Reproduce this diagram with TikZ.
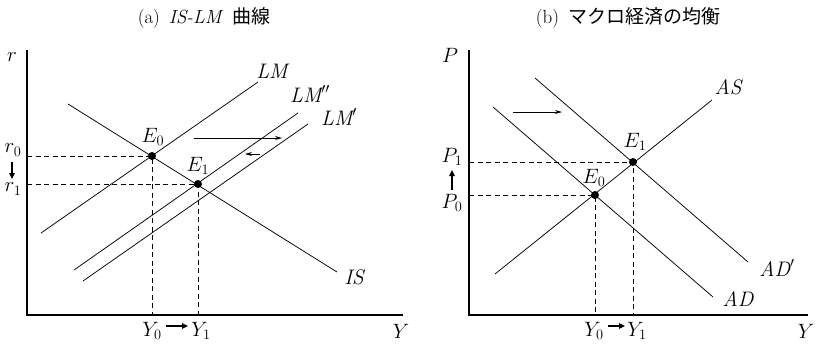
\documentclass[tikz,border=0pt]{standalone}
\usepackage{fontspec}
\newfontfamily\cjk{Noto Sans CJK JP}
\usetikzlibrary{arrows.meta}
\begin{document}
\begin{tikzpicture}[x=1pt,y=-1pt,
  curve/.style={line width=0.75pt},
  axis/.style={line width=1.1pt},
  guide/.style={line width=0.75pt,dash pattern=on 5pt off 3.5pt},
  shiftarrow/.style={line width=0.75pt,-{Stealth[length=7pt,width=4pt]}},
  movearrow/.style={line width=1.2pt,-{Triangle[length=6pt,width=5.5pt]}},
  lab/.style={font=\fontsize{21}{25}\selectfont,inner sep=0pt},
  ttl/.style={font=\fontsize{19}{23}\selectfont,inner sep=0pt},
  eq/.style={circle,fill=black,inner sep=0pt,minimum size=8pt}]
\useasboundingbox (0,0) rectangle (818,346);
% ---------- titles
\node[ttl] (ta) at (204,18) {(a)\, \textit{IS-LM}\, {\cjk 曲線}};
\node[ttl] (tb) at (628,18) {(b)\, {\cjk マクロ経済の均衡}};
% ---------- panel (a)
\coordinate (oa) at (27,315);
\coordinate (ya) at (27,50);
\coordinate (xa) at (403,315);
\draw[axis] (ya) -- (oa) -- (xa);
\coordinate (is1) at (68,104);   \coordinate (is2) at (337,272);
\coordinate (lm1) at (41,233);   \coordinate (lm2) at (258,82);
\coordinate (lmb1) at (74,270);  \coordinate (lmb2) at (298,113);
\coordinate (lmp1) at (83,281);  \coordinate (lmp2) at (308,124);
\draw[curve] (is1) -- (is2);
\draw[curve] (lm1) -- (lm2);
\draw[curve] (lmb1) -- (lmb2);
\draw[curve] (lmp1) -- (lmp2);
\node[eq] (ea0) at (152,156) {};
\node[eq] (ea1) at (198,184) {};
\coordinate (ra0) at (27,156);  \coordinate (ra1) at (27,184);
\coordinate (ya0) at (152,315); \coordinate (ya1) at (198,315);
\draw[guide] (ra0) -- (ea0.center) -- (ya0);
\draw[guide] (ra1) -- (ea1.center) -- (ya1);
\coordinate (sa1) at (194,138); \coordinate (sa2) at (282,138);
\coordinate (sb1) at (260,154); \coordinate (sb2) at (245,154);
\draw[shiftarrow] (sa1) -- (sa2);
\draw[shiftarrow] (sb1) -- (sb2);
\node[lab] (llm) at (272,71) {$\mathit{LM}$};
\node[lab] (llmb) at (310,94) {$\mathit{LM}''$};
\node[lab] (llmp) at (339,117) {$\mathit{LM}'$};
\node[lab] (lis) at (354,277) {$\mathit{IS}$};
\node[lab] (le0) at (153,137) {$E_0$};
\node[lab] (le1) at (198,166) {$E_1$};
\node[lab] (lr) at (12,57) {$r$};
\node[lab] (lr0) at (13,150) {$r_0$};
\node[lab] (lr1) at (13,189) {$r_1$};
\coordinate (ma1) at (12,162); \coordinate (ma2) at (12,179);
\draw[movearrow] (ma1) -- (ma2);
\node[lab] (ly0) at (152,331) {$Y_0$};
\node[lab] (ly1) at (201,331) {$Y_1$};
\coordinate (mc1) at (166,326); \coordinate (mc2) at (188,326);
\draw[movearrow] (mc1) -- (mc2);
\node[lab] (lya) at (401,331) {$Y$};
% ---------- panel (b)
\coordinate (ob) at (469,315);
\coordinate (yb) at (469,50);
\coordinate (xb) at (808,315);
\draw[axis] (yb) -- (ob) -- (xb);
\coordinate (as1) at (495,274);  \coordinate (as2) at (712,100);
\coordinate (ad1) at (493,107);  \coordinate (ad2) at (713,297);
\coordinate (adp1) at (535,78);  \coordinate (adp2) at (748,262);
\draw[curve] (as1) -- (as2);
\draw[curve] (ad1) -- (ad2);
\draw[curve] (adp1) -- (adp2);
\node[eq] (eb0) at (595,195) {};
\node[eq] (eb1) at (633,162) {};
\coordinate (pb0) at (469,195); \coordinate (pb1) at (469,162);
\coordinate (yb0) at (595,315); \coordinate (yb1) at (633,315);
\draw[guide] (pb1) -- (eb1.center) -- (yb1);
\draw[guide] (pb0) -- (eb0.center) -- (yb0);
\coordinate (sc1) at (513,112); \coordinate (sc2) at (562,112);
\draw[shiftarrow] (sc1) -- (sc2);
\node[lab] (las) at (728,87) {$\mathit{AS}$};
\node[lab] (ladp) at (777,268) {$\mathit{AD}'$};
\node[lab] (lad) at (738,299) {$\mathit{AD}$};
\node[lab] (lf0) at (594,178) {$E_0$};
\node[lab] (lf1) at (635,142) {$E_1$};
\node[lab] (lp) at (450,55) {$P$};
\node[lab] (lp1) at (452,157) {$P_1$};
\node[lab] (lp0) at (452,203) {$P_0$};
\coordinate (mb1) at (452,190); \coordinate (mb2) at (452,170);
\draw[movearrow] (mb1) -- (mb2);
\node[lab] (lz0) at (594,331) {$Y_0$};
\node[lab] (lz1) at (637,331) {$Y_1$};
\coordinate (md1) at (608,326); \coordinate (md2) at (625,326);
\draw[movearrow] (md1) -- (md2);
\node[lab] (lyb) at (806,331) {$Y$};
\end{tikzpicture}
\end{document}
